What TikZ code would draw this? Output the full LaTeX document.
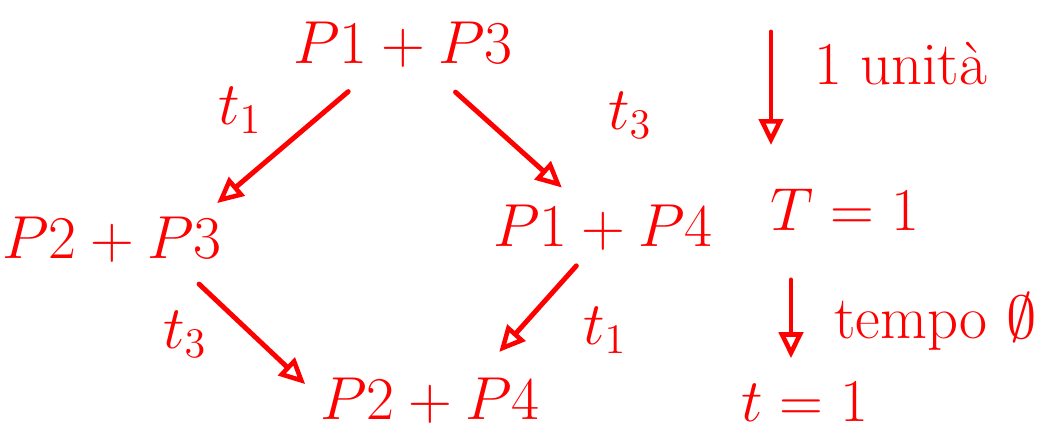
\documentclass[tikz,border=0pt]{standalone}
\usepackage{amsmath,amssymb}
\usepackage{fontspec}
\usepackage{tikz}
\usetikzlibrary{calc,arrows.meta}

\begin{document}
\begin{tikzpicture}[
		stato/.style={red, font=\LARGE, inner sep=2pt},
		nota/.style={red, font=\LARGE, inner sep=1pt},
		freccia/.style={red, line width=1.4pt, line cap=round,
			-{Triangle[open, length=2.6mm, width=2.4mm, line width=1.3pt]}}
	]
		% 0. cornice (proporzioni 1063 x 434)
		\useasboundingbox (0,0) rectangle (10.63,4.34);
		
		% 1. i quattro stati
		\node[stato] (p13) at (4.03,3.89) {$P1 + P3$};
		\node[stato] (p23) at (1.12,1.94) {$P2 + P3$};
		\node[stato] (p14) at (6.03,2.06) {$P1 + P4$};
		\node[stato] (p24) at (4.30,0.33) {$P2 + P4$};
		
		% 2. transizioni t1 e t3
		\draw[freccia, shorten <=0.25cm, shorten >=0.1cm] ([xshift=-2mm]p13) -- ([xshift=-2mm]p23.north east);
		\draw[freccia, shorten <=0.25cm, shorten >=0.15cm] (p13) -- ([xshift=-3mm]p14.north);
		\draw[freccia, shorten <=0.1cm, shorten >=0.25cm] ([xshift=-2mm]p14.south) -- ([xshift=-6.5mm]p24.north east);
		\draw[freccia, shorten <=0.2cm, shorten >=0.1cm] ([xshift=-4.5mm]p23.south east) -- ([yshift=1mm]p24.west);
		\node[nota] at (2.40,3.24) {$t_1$};
		\node[nota] at (6.30,3.19) {$t_3$};
		\node[nota] at (1.85,1.00) {$t_3$};
		\node[nota] at (6.05,1.04) {$t_1$};
		
		% 3. scala dei tempi a destra
		\node[nota] (T1) at (8.45,2.24) {$T = 1$};
		\node[nota] (tt1) at (8.05,0.32) {$t = 1$};
		\coordinate (u0) at (7.71,4.02);
		\coordinate (d0) at (7.91,0);
		\draw[freccia, shorten >=0.4cm] (u0) -- (T1.north -| u0);
		\draw[freccia, shorten <=0.45cm, shorten >=0.2cm] (T1.south -| d0) -- (tt1.north -| d0);
		\node[nota, anchor=west] at (8.10,3.70) {1 unità};
		\node[nota, anchor=west] at (8.30,1.12) {tempo $\emptyset$};
		
	\end{tikzpicture}
\end{document}
